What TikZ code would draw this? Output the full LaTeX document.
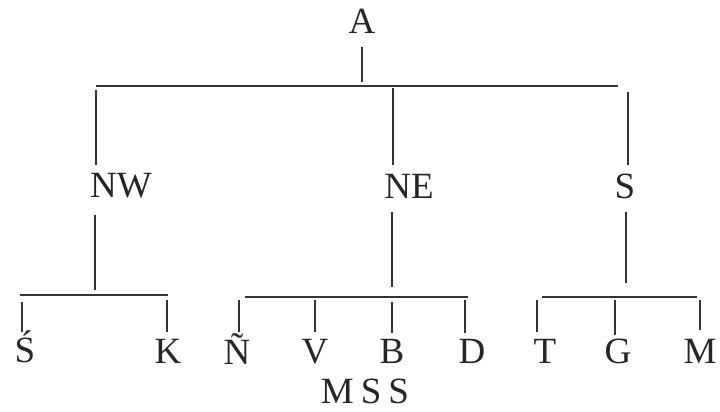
\documentclass[tikz,border=0pt]{standalone}
\usepackage{fontspec}
\setmainfont{Liberation Serif}
\begin{document}
\begin{tikzpicture}[x=1pt,y=-1pt,
  lbl/.style={anchor=base,inner sep=0pt,text=black!85,font=\fontsize{37}{40}\selectfont},
  ln/.style={line width=1.2pt,draw=black!80}]
\useasboundingbox[fill=white] (0,0) rectangle (720,412);
% labels
\node[lbl] (A)  at (362,34) {A};
\node[lbl] (NW) at (121,197) {NW};
\node[lbl] (NE) at (409,198) {NE};
\node[lbl] (S)  at (625,198) {S};
\node[lbl] (Sa) at (25,362) {Ś};
\node[lbl] (K)  at (168,363) {K};
\node[lbl] (Nt) at (237,364) {Ñ};
\node[lbl] (V)  at (315,363) {V};
\node[lbl] (B)  at (392,363) {B};
\node[lbl] (D)  at (472,363) {D};
\node[lbl] (T)  at (545,363) {T};
\node[lbl] (G)  at (618,363) {G};
\node[lbl] (M)  at (700,363) {M};
\node[lbl] (MSS) at (365,403) {M\kern7pt S\kern7pt S};
% top level
\coordinate (A1) at (362,47); \coordinate (A2) at (362,82);
\coordinate (barL) at (96,86); \coordinate (barR) at (618,86);
\coordinate (nw1) at (96,90);  \coordinate (nw2) at (96,165);
\coordinate (ne1) at (393,88); \coordinate (ne2) at (393,165);
\coordinate (s1) at (628,92);  \coordinate (s2) at (628,165);
\draw[ln] (A1) -- (A2);
\draw[ln] (barL) -- (barR);
\draw[ln] (nw1) -- (nw2);
\draw[ln] (ne1) -- (ne2);
\draw[ln] (s1) -- (s2);
% NW group
\coordinate (nwd1) at (95,215); \coordinate (nwd2) at (95,290);
\coordinate (nwbL) at (20,295); \coordinate (nwbR) at (168,295);
\coordinate (sa1) at (22,302);  \coordinate (sa2) at (22,332);
\coordinate (k1) at (167,300);  \coordinate (k2) at (167,332);
\draw[ln] (nwd1) -- (nwd2);
\draw[ln] (nwbL) -- (nwbR);
\draw[ln] (sa1) -- (sa2);
\draw[ln] (k1) -- (k2);
% NE group
\coordinate (ned1) at (392,212); \coordinate (ned2) at (392,287);
\coordinate (nebL) at (245,297); \coordinate (nebR) at (468,297);
\coordinate (n1) at (239,300); \coordinate (n2) at (239,332);
\coordinate (v1) at (315,300); \coordinate (v2) at (315,332);
\coordinate (b1) at (392,302); \coordinate (b2) at (392,333);
\coordinate (d1) at (465,300); \coordinate (d2) at (465,333);
\draw[ln] (ned1) -- (ned2);
\draw[ln] (nebL) -- (nebR);
\draw[ln] (n1) -- (n2);
\draw[ln] (v1) -- (v2);
\draw[ln] (b1) -- (b2);
\draw[ln] (d1) -- (d2);
% S group
\coordinate (sd1) at (626,212); \coordinate (sd2) at (626,283);
\coordinate (sbL) at (542,297); \coordinate (sbR) at (697,297);
\coordinate (t1) at (537,300); \coordinate (t2) at (537,332);
\coordinate (g1) at (615,300); \coordinate (g2) at (615,335);
\coordinate (m1) at (700,300); \coordinate (m2) at (700,330);
\draw[ln] (sd1) -- (sd2);
\draw[ln] (sbL) -- (sbR);
\draw[ln] (t1) -- (t2);
\draw[ln] (g1) -- (g2);
\draw[ln] (m1) -- (m2);
\end{tikzpicture}
\end{document}
